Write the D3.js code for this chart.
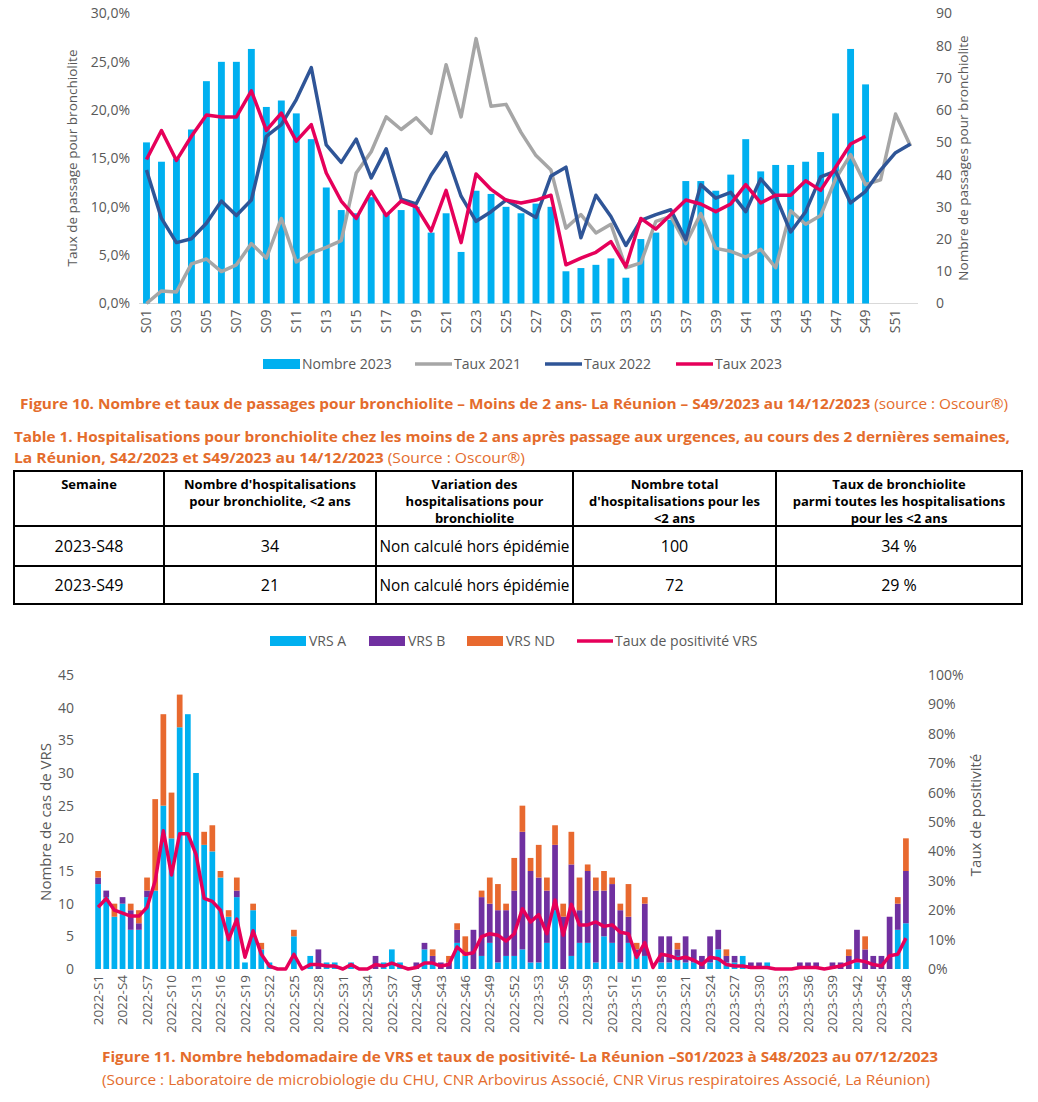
<!DOCTYPE html>
<meta charset="utf-8">
<style>
body { margin: 0; background: #fff; font-family: 'Open Sans', sans-serif; }
svg text { fill: #595959; font-family: 'Open Sans', sans-serif; }
.tick text { font-size: 14px; }
.axis path, .axis line { display: none; }
.legend text { font-size: 14px; }
.caption text, text.caption { fill: #e46c2c; }
.table text { fill: #000; }
</style>
<body>
<svg id="page" width="1038" height="1102"></svg>

<script src="https://cdn.jsdelivr.net/npm/d3@7"></script>
<script>
// ---- Figure 10 : passages pour bronchiolite ----
const weeks1 = d3.range(1, 53).map(d => 'S' + String(d).padStart(2, '0'));
const nombre2023 = [50,44,45,54,69,75,75,79,61,63,59,51,36,29,28,33,28,29,30,22,28,16,35,34,30,28,31,30,10,11,12,14,8,20,22,26,38,38,35,40,51,41,43,43,44,47,59,79,68];
const taux2021 = [0.0,1.3,1.2,4.1,4.6,3.3,4.0,6.2,4.7,8.8,4.3,5.2,5.8,6.5,13.5,15.7,19.3,18.0,19.2,17.6,24.7,19.3,27.4,20.4,20.6,17.7,15.3,13.8,7.8,9.2,7.3,8.2,3.7,4.2,8.5,9.0,6.2,9.3,5.7,5.4,4.8,5.6,3.7,9.6,8.2,9.1,12.9,15.4,12.3,12.8,19.6,16.3];
const taux2022 = [13.8,8.8,6.3,6.7,8.3,10.6,9.1,10.7,17.3,18.5,21.1,24.4,16.4,14.6,17.0,13.0,16.0,10.8,10.3,13.3,15.6,11.1,8.5,9.5,10.7,9.8,8.9,13.2,14.1,6.8,11.2,9.0,6.0,8.6,9.2,9.7,6.6,12.3,10.9,11.5,9.5,12.9,11.1,7.4,9.5,13.1,13.7,10.4,11.6,13.8,15.6,16.5];
const taux2023 = [14.9,17.9,14.8,17.3,19.5,19.3,19.3,22.0,17.9,19.7,16.8,18.5,13.5,10.6,8.8,11.6,9.1,10.6,10.0,7.5,11.7,6.3,13.4,11.8,10.7,10.4,10.7,11.2,4.0,4.7,5.3,6.4,3.8,8.8,7.7,9.2,10.7,10.3,9.5,10.3,12.3,10.4,11.2,11.2,12.7,11.7,14.1,16.5,17.3];
const ticksLeft1 = [0, 5, 10, 15, 20, 25, 30];
const ticksRight1 = [0, 10, 20, 30, 40, 50, 60, 70, 80, 90];

// ---- Table 1 ----
const tableHeaders = [
  ['Semaine'],
  ["Nombre d'hospitalisations", 'pour bronchiolite, <2 ans'],
  ['Variation des', 'hospitalisations pour', 'bronchiolite'],
  ['Nombre total', "d'hospitalisations pour les", '<2 ans'],
  ['Taux de bronchiolite', 'parmi toutes les hospitalisations', 'pour les <2 ans']
];
const tableRows = [
  ['2023-S48', '34', 'Non calculé hors épidémie', '100', '34 %'],
  ['2023-S49', '21', 'Non calculé hors épidémie', '72', '29 %']
];

// ---- Figure 11 : VRS ----
const weeks2 = d3.range(1, 53).map(d => '2022-S' + d).concat(d3.range(1, 49).map(d => '2023-S' + d));
const vrsA = [13,11,8,10,6,6,11,12,25,20, 37,39,30,19,18,14,8,11,1,9, 3,1,0,0,5,0,2,0,1,1, 0,1,0,0,0,1,3,1,0,0,
              3,1,0,0,4,2,0,2,4,1, 2,2,3,1,1,4,9,0,2,4, 4,1,5,4,1,4,2,2,0,1, 1,2,1,1,0,1,3,1,1,2, 0,0,1,0,0,0,0,0,0,0, 0,0,0,1,0,0,0,0,6,7];
const vrsB = [1,1,0,1,3,1,1,0,0,0, 0,0,0,0,0,0,0,1,0,0, 0,0,0,0,0,0,0,3,0,0, 0,0,0,0,2,0,0,0,0,1,
              1,1,1,1,2,0,6,9,6,8, 7,10,18,14,13,8,10,8,14,5, 11,11,7,9,8,4,1,8,0,4, 4,1,4,2,2,4,3,1,1,0, 1,1,0,0,0,0,1,1,1,0, 1,1,2,5,3,2,2,8,4,8];
const vrsND = [1,0,2,0,1,2,2,14,14,7, 5,0,0,2,4,1,1,2,0,1, 1,0,0,0,1,0,0,0,0,0, 0,0,0,0,0,0,0,0,0,0,
               0,1,0,1,1,3,0,1,4,4, 1,5,4,2,5,2,3,2,5,5, 1,2,3,1,1,5,1,1,0,0, 0,1,0,0,0,0,0,1,0,0, 0,0,0,0,0,0,0,0,0,0, 0,0,1,0,2,0,0,0,1,5];
const tauxPos = [21,24,20,19,18,18,21,30,47,32, 46,46,39,24,23,20,10,17,4,13, 5,1,0,0,5,0,1.5,1.5,1,1, 0,1.5,0,0,1.5,1,2,1,0,0.5,
                 2,2,1,1.5,7.5,5,5.5,11,12,11.5, 9.5,12,20.5,16,18.5,12,23.5,11.5,22,15, 15,16,14.5,15,12.5,12,4,9,0.5,5,
                 4.5,3.5,4,3,1.5,4,3.5,1.5,1,1, 0.5,0.5,0.5,0,0,0,0.5,0.5,0.5,0, 0.5,1,2,3,2.5,1.5,1,4.5,5,10.5];
const ticksLeft2 = [0, 5, 10, 15, 20, 25, 30, 35, 40, 45];
const ticksRight2 = [0, 10, 20, 30, 40, 50, 60, 70, 80, 90, 100];

const fr = d3.formatLocale({decimal: ',', thousands: ' ', grouping: [3], currency: ['', ' €']});

const svg = d3.select('#page');
svg.append('rect').attr('width', 1038).attr('height', 1102).attr('fill', '#fff');

// =========== chart 1 ===========
const c1 = {left: 139, right: 918, top: 13.5, bottom: 303.5};
const x1 = d3.scaleBand().domain(weeks1).range([c1.left, c1.right]).paddingInner(0.54).paddingOuter(0.27);
const yL1 = d3.scaleLinear().domain([0, 30]).range([c1.bottom, c1.top]);
const yR1 = d3.scaleLinear().domain([0, 90]).range([c1.bottom, c1.top]);

svg.append('g').attr('class', 'axis')
  .attr('transform', `translate(${c1.left - 6},0)`)
  .call(d3.axisLeft(yL1).tickValues(ticksLeft1).tickSize(0).tickFormat(d => fr.format('.1f')(d) + '%'));
svg.append('g').attr('class', 'axis')
  .attr('transform', `translate(${c1.right + 15},0)`)
  .call(d3.axisRight(yR1).tickValues(ticksRight1).tickSize(0));

svg.append('line').attr('x1', c1.left).attr('x2', c1.right)
  .attr('y1', c1.bottom).attr('y2', c1.bottom).attr('stroke', '#d9d9d9').attr('stroke-width', 1.2);

svg.append('g').attr('class', 'axis')
  .attr('transform', `translate(0,${c1.bottom + 4})`)
  .call(d3.axisBottom(x1).tickSize(0).tickValues(weeks1.filter((d, i) => i % 2 === 0)))
  .selectAll('text')
  .attr('transform', 'rotate(-90)')
  .attr('text-anchor', 'end')
  .attr('x', -2).attr('y', 0).attr('dy', '0.35em');

svg.append('g').selectAll('rect').data(nombre2023).join('rect')
  .attr('x', (d, i) => x1(weeks1[i]))
  .attr('width', x1.bandwidth())
  .attr('y', d => yR1(d))
  .attr('height', d => c1.bottom - yR1(d))
  .attr('fill', '#00b0f0');

const line1 = d3.line().x((d, i) => x1(weeks1[i]) + x1.bandwidth() / 2).y(d => yL1(d));
[[taux2021, '#a6a6a6'], [taux2022, '#2f5597'], [taux2023, '#e6005a']].forEach(([s, c]) => {
  svg.append('path').datum(s).attr('d', line1).attr('fill', 'none')
    .attr('stroke', c).attr('stroke-width', 3.5).attr('stroke-linejoin', 'round');
});

svg.append('text').attr('transform', 'translate(77,158) rotate(-90)')
  .attr('text-anchor', 'middle').style('font-size', '13.5px').text('Taux de passage pour bronchiolite');
svg.append('text').attr('transform', 'translate(968,158) rotate(-90)')
  .attr('text-anchor', 'middle').style('font-size', '13.5px').text('Nombre de passages pour bronchiolite');

const leg1 = svg.append('g').attr('class', 'legend');
leg1.append('rect').attr('x', 263).attr('y', 359).attr('width', 37).attr('height', 10).attr('fill', '#00b0f0');
leg1.append('text').attr('x', 302).attr('y', 364).attr('dy', '0.35em').text('Nombre 2023');
[[415, 'Taux 2021', '#a6a6a6'], [545, 'Taux 2022', '#2f5597'], [676, 'Taux 2023', '#e6005a']].forEach(([lx, t, c]) => {
  leg1.append('line').attr('x1', lx).attr('x2', lx + 37).attr('y1', 364).attr('y2', 364)
    .attr('stroke', c).attr('stroke-width', 3.5);
  leg1.append('text').attr('x', lx + 39).attr('y', 364).attr('dy', '0.35em').text(t);
});

// captions
const cap1 = svg.append('text').attr('class', 'caption').attr('x', 20).attr('y', 409)
  .attr('textLength', 988).attr('lengthAdjust', 'spacingAndGlyphs').style('font-size', '15px');
cap1.append('tspan').style('font-weight', 700).text('Figure 10. Nombre et taux de passages pour bronchiolite – Moins de 2 ans- La Réunion – S49/2023 au 14/12/2023 ');
cap1.append('tspan').text('(source : Oscour®)');

svg.append('text').attr('class', 'caption').attr('x', 14).attr('y', 442)
  .attr('textLength', 996).attr('lengthAdjust', 'spacingAndGlyphs').style('font-size', '15px').style('font-weight', 700)
  .text('Table 1. Hospitalisations pour bronchiolite chez les moins de 2 ans après passage aux urgences, au cours des 2 dernières semaines,');
const cap2 = svg.append('text').attr('class', 'caption').attr('x', 14).attr('y', 463)
  .attr('textLength', 511).attr('lengthAdjust', 'spacingAndGlyphs').style('font-size', '15px');
cap2.append('tspan').style('font-weight', 700).text('La Réunion, S42/2023 et S49/2023 au 14/12/2023 ');
cap2.append('tspan').text('(Source : Oscour®)');

// =========== table ===========
const colX = [14, 164, 376, 573, 776, 1022];
const rowY = [471, 526, 566, 604];
const tb = svg.append('g').attr('class', 'table');
rowY.forEach(y => tb.append('line').attr('x1', colX[0] - 1).attr('x2', colX[5] + 1).attr('y1', y).attr('y2', y)
  .attr('stroke', '#000').attr('stroke-width', 2));
colX.forEach(x => tb.append('line').attr('x1', x).attr('x2', x).attr('y1', rowY[0]).attr('y2', rowY[3])
  .attr('stroke', '#000').attr('stroke-width', 2));
tableHeaders.forEach((lines, c) => {
  const cx = (colX[c] + colX[c + 1]) / 2;
  lines.forEach((t, k) => tb.append('text').attr('x', cx).attr('y', 489 + k * 17)
    .attr('text-anchor', 'middle').style('font-size', '13px').style('font-weight', 700).text(t));
});
tableRows.forEach((row, r) => {
  const cy = (rowY[r + 1] + rowY[r + 2]) / 2;
  row.forEach((t, c) => {
    const cx = (colX[c] + colX[c + 1]) / 2;
    const el = tb.append('text').attr('x', cx).attr('y', cy).attr('dy', '0.35em')
      .attr('text-anchor', 'middle').style('font-size', '16px').text(t);
    if (c === 2) el.attr('textLength', 190).attr('lengthAdjust', 'spacingAndGlyphs');
  });
});

// =========== chart 2 ===========
const c2 = {left: 94, right: 910, top: 675, bottom: 969};
const x2 = d3.scaleBand().domain(weeks2).range([c2.left, c2.right]).paddingInner(0.3).paddingOuter(0.15);
const yL2 = d3.scaleLinear().domain([0, 45]).range([c2.bottom, c2.top]);
const yR2 = d3.scaleLinear().domain([0, 100]).range([c2.bottom, c2.top]);

svg.append('g').attr('class', 'axis')
  .attr('transform', `translate(${c2.left - 17},0)`)
  .call(d3.axisLeft(yL2).tickValues(ticksLeft2).tickSize(0));
svg.append('g').attr('class', 'axis')
  .attr('transform', `translate(${c2.right + 15},0)`)
  .call(d3.axisRight(yR2).tickValues(ticksRight2).tickSize(0).tickFormat(d => d + '%'));

svg.append('g').attr('class', 'axis')
  .attr('transform', `translate(0,${c2.bottom + 4})`)
  .call(d3.axisBottom(x2).tickSize(0).tickValues(weeks2.filter((d, i) => i % 3 === 0)))
  .selectAll('text')
  .style('font-size', '13.5px')
  .attr('transform', 'rotate(-90)')
  .attr('text-anchor', 'end')
  .attr('x', -2).attr('y', 0).attr('dy', '0.35em');

const rows2 = weeks2.map((w, i) => ({week: w, A: vrsA[i], B: vrsB[i], ND: vrsND[i]}));
const keys2 = ['A', 'B', 'ND'];
const colors2 = {A: '#00b0f0', B: '#7030a0', ND: '#e8692f'};
const stacked = d3.stack().keys(keys2)(rows2);
svg.append('g').selectAll('g').data(stacked).join('g')
  .attr('fill', d => colors2[d.key])
  .selectAll('rect').data(d => d).join('rect')
  .attr('x', d => x2(d.data.week))
  .attr('width', x2.bandwidth())
  .attr('y', d => yL2(d[1]))
  .attr('height', d => yL2(d[0]) - yL2(d[1]));

svg.append('path').datum(tauxPos)
  .attr('d', d3.line().x((d, i) => x2(weeks2[i]) + x2.bandwidth() / 2).y(d => yR2(d)))
  .attr('fill', 'none').attr('stroke', '#e6005a').attr('stroke-width', 3.5).attr('stroke-linejoin', 'round');

svg.append('text').attr('transform', 'translate(51,822) rotate(-90)')
  .attr('text-anchor', 'middle').style('font-size', '15px').text('Nombre de cas de VRS');
svg.append('text').attr('transform', 'translate(981,815) rotate(-90)')
  .attr('text-anchor', 'middle').style('font-size', '15px').text('Taux de positivité');

const leg2 = svg.append('g').attr('class', 'legend');
[[270, 'VRS A', '#00b0f0'], [369, 'VRS B', '#7030a0'], [467, 'VRS ND', '#e8692f']].forEach(([lx, t, c]) => {
  leg2.append('rect').attr('x', lx).attr('y', 636).attr('width', 36).attr('height', 10).attr('fill', c);
  leg2.append('text').attr('x', lx + 39).attr('y', 641).attr('dy', '0.35em').text(t);
});
leg2.append('line').attr('x1', 577).attr('x2', 613).attr('y1', 641).attr('y2', 641)
  .attr('stroke', '#e6005a').attr('stroke-width', 3.5);
leg2.append('text').attr('x', 615).attr('y', 641).attr('dy', '0.35em').text('Taux de positivité VRS');

svg.append('text').attr('class', 'caption').attr('x', 102).attr('y', 1062)
  .attr('textLength', 836).attr('lengthAdjust', 'spacingAndGlyphs')
  .style('font-size', '14.5px').style('font-weight', 700)
  .text('Figure 11. Nombre hebdomadaire de VRS et taux de positivité- La Réunion –S01/2023 à S48/2023 au 07/12/2023');
svg.append('text').attr('class', 'caption').attr('x', 102).attr('y', 1085)
  .attr('textLength', 828).attr('lengthAdjust', 'spacingAndGlyphs')
  .style('font-size', '14.5px')
  .text('(Source : Laboratoire de microbiologie du CHU, CNR Arbovirus Associé, CNR Virus respiratoires Associé, La Réunion)');
</script>
</body>
